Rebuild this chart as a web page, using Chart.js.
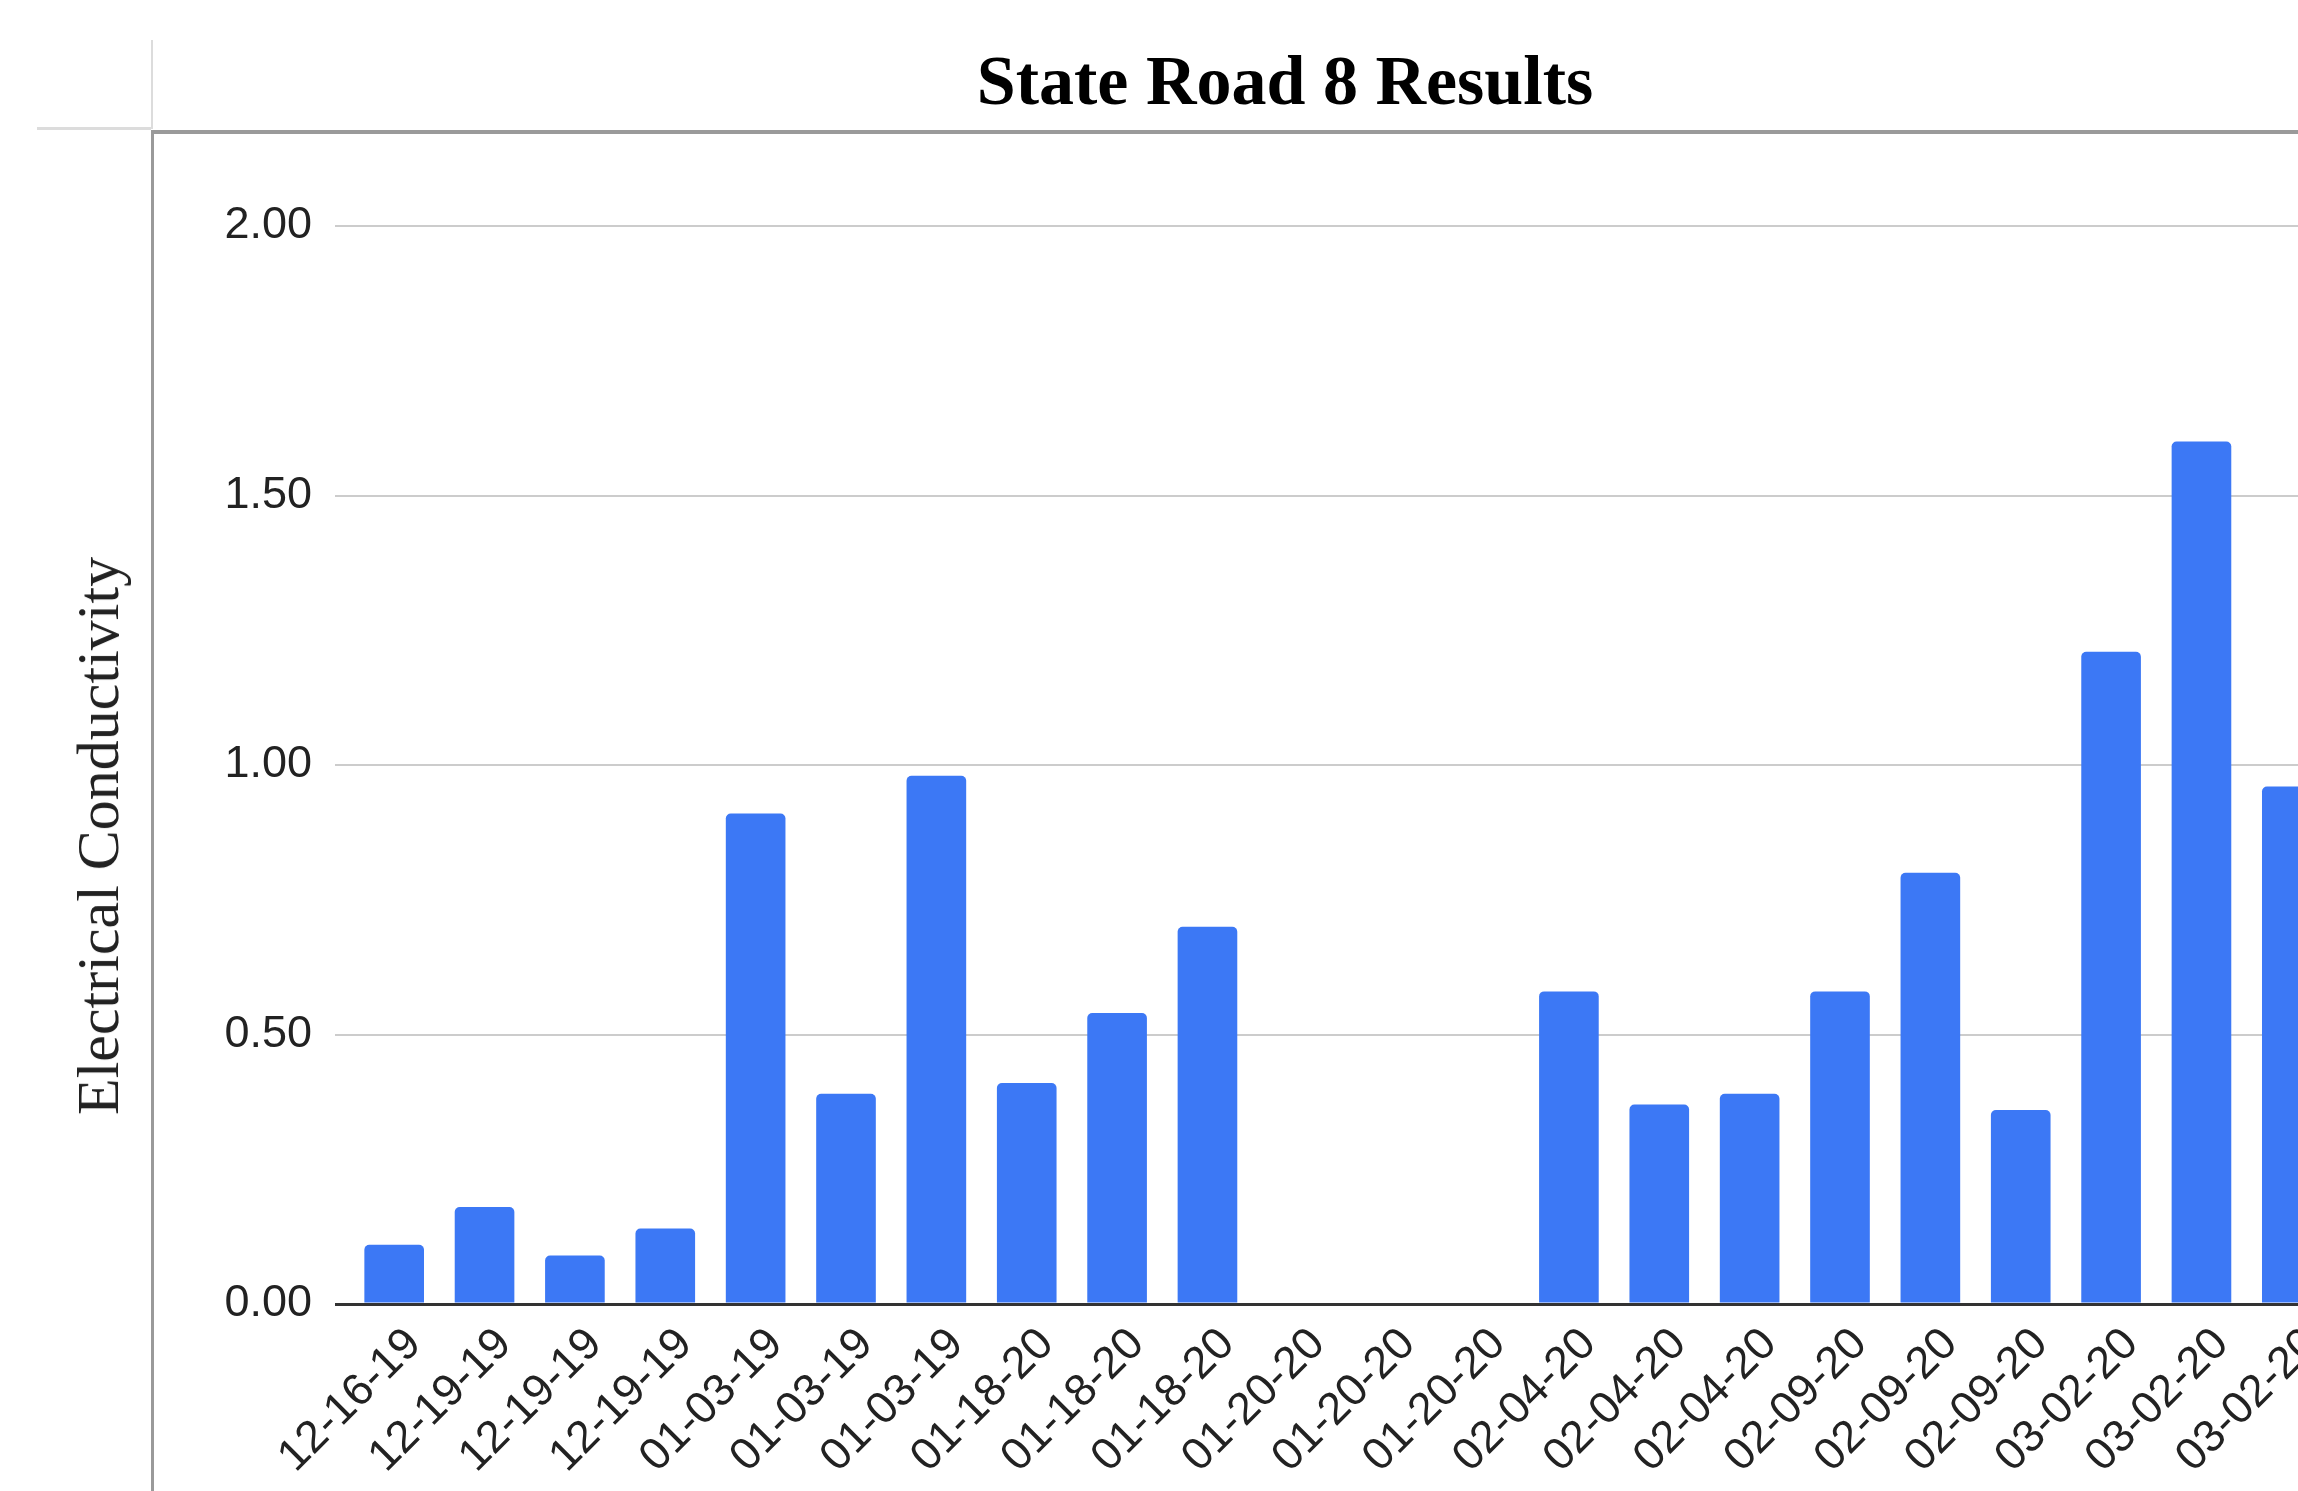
<!DOCTYPE html>
<html>
<head>
<meta charset="utf-8">
<script src="https://cdn.jsdelivr.net/npm/chart.js@4/dist/chart.umd.min.js"></script>
<style>
  html, body { margin: 0; padding: 0; background: #fff; overflow: hidden; width: 2298px; height: 1491px; }
  #wrap { position: relative; width: 2298px; height: 1491px; overflow: hidden; }
  #c { position: absolute; left: 0; top: 0; }
  .ln { position: absolute; }
  #ytitle {
    position: absolute; left: 98px; top: 836px;
    transform: translate(-50%, -50%) rotate(-90deg);
    font-family: "Liberation Serif", "Times New Roman", serif;
    font-size: 60px; line-height: 60px; color: #222; white-space: nowrap;
  }
</style>
</head>
<body>
<div id="wrap">
  <canvas id="c" width="2570" height="1491"></canvas>
  <div id="ytitle">Electrical Conductivity</div>
  <div class="ln" style="left:151px; top:40px; width:2px; height:89px; background:#dcdcdc;"></div>
  <div class="ln" style="left:37px; top:127px; width:114px; height:3px; background:#dcdcdc;"></div>
  <div class="ln" style="left:151px; top:130px; width:3px; height:1361px; background:#9a9a9a;"></div>
  <div class="ln" style="left:151px; top:130px; width:2147px; height:4px; background:#9a9a9a;"></div>
</div>
<script>
const categories = ["12-16-19","12-19-19","12-19-19","12-19-19","01-03-19","01-03-19","01-03-19",
  "01-18-20","01-18-20","01-18-20","01-20-20","01-20-20","01-20-20","02-04-20","02-04-20","02-04-20",
  "02-09-20","02-09-20","02-09-20","03-02-20","03-02-20","03-02-20"];
const conductivity = [0.11, 0.18, 0.09, 0.14, 0.91, 0.39, 0.98, 0.41, 0.54, 0.70, null, null, null,
  0.58, 0.37, 0.39, 0.58, 0.80, 0.36, 1.21, 1.60, 0.96];
const yTicks = [0, 0.5, 1.0, 1.5, 2.0];
const chartTitle = "State Road 8 Results";

new Chart(document.getElementById('c'), {
  type: 'bar',
  data: {
    labels: categories,
    datasets: [{
      label: 'Electrical Conductivity',
      data: conductivity,
      backgroundColor: '#3c78f5',
      borderWidth: 0,
      borderRadius: { topLeft: 5, topRight: 5, bottomLeft: 0, bottomRight: 0 },
      borderSkipped: 'bottom',
      categoryPercentage: 1.0,
      barPercentage: 0.66
    }]
  },
  options: {
    responsive: false,
    animation: false,
    layout: { padding: 0 },
    plugins: {
      legend: { display: false },
      tooltip: { enabled: false },
      title: {
        display: true,
        text: chartTitle,
        color: '#000',
        font: { family: '"Liberation Serif", "Times New Roman", serif', size: 70, weight: 'bold', lineHeight: 1.2 },
        padding: { top: 44, bottom: 98 }
      }
    },
    scales: {
      x: {
        grid: { display: false, drawTicks: false },
        border: { display: false },
        ticks: {
          color: '#222',
          font: { family: '"Liberation Sans", Arial, sans-serif', size: 45 },
          minRotation: 45, maxRotation: 45, autoSkip: false, padding: 14,
          labelOffset: 20
        },
        afterFit: s => { s.height = 187; }
      },
      y: {
        min: 0, max: 2,
        afterBuildTicks: s => { s.ticks = yTicks.map(v => ({ value: v })); },
        grid: {
          color: ctx => (ctx.tick && ctx.tick.value === 0) ? '#333' : '#cccccc',
          lineWidth: ctx => (ctx.tick && ctx.tick.value === 0) ? 3 : 2,
          drawTicks: true, tickLength: 14
        },
        border: { display: false },
        ticks: {
          color: '#222',
          font: { family: '"Liberation Sans", Arial, sans-serif', size: 45 },
          padding: 23,
          callback: v => Number(v).toFixed(2)
        },
        afterFit: s => { s.width = 349; }
      },
      y2: {
        position: 'right',
        display: true,
        grid: { display: false, drawTicks: false },
        border: { display: false },
        ticks: { display: false },
        afterFit: s => { s.width = 233; }
      }
    }
  }
});
</script>
</body>
</html>
